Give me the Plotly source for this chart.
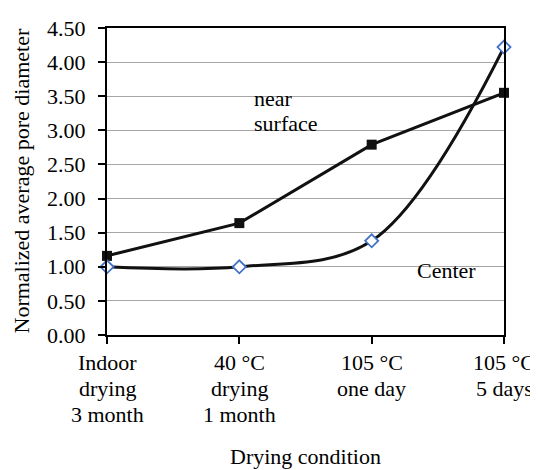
import plotly.graph_objects as go

categories = [["Indoor", "drying", "3 month"], ["40 °C", "drying", "1 month"],
              ["105 °C", "one day"], ["105 °C", "5 days"]]
near_surface = [1.16, 1.64, 2.79, 3.55]
center = [1.00, 1.00, 1.38, 4.22]
y_ticks = [0, 0.5, 1.0, 1.5, 2.0, 2.5, 3.0, 3.5, 4.0, 4.5]

xpos = list(range(len(categories)))
FONT = "Liberation Serif"
FS = 22
TXT = dict(family=FONT, size=FS, color="black")

fig = go.Figure()
fig.add_trace(go.Scatter(
    x=xpos, y=near_surface, mode="lines+markers", name="near surface",
    line=dict(color="#111111", width=3),
    marker=dict(symbol="square", size=10, color="#111111"),
    cliponaxis=False,
))
fig.add_trace(go.Scatter(
    x=xpos, y=center, mode="lines+markers", name="Center",
    line=dict(color="#111111", width=3, shape="spline", smoothing=1),
    marker=dict(symbol="diamond", size=10, color="white",
                line=dict(color="#4472C4", width=1.8)),
    cliponaxis=False,
))

# series labels
fig.add_annotation(x=1.094, y=3.46, text="near", showarrow=False,
                   xanchor="left", yanchor="middle", font=TXT)
fig.add_annotation(x=1.094, y=3.094, text="surface", showarrow=False,
                   xanchor="left", yanchor="middle", font=TXT)
fig.add_annotation(x=2.328, y=0.94, text="Center", showarrow=False,
                   xanchor="left", yanchor="middle", font=TXT)

# category labels (multi-line, tighter line spacing)
for i, lines in enumerate(categories):
    for j, line in enumerate(lines):
        fig.add_annotation(x=xpos[i], y=0, xref="x", yref="y", text=line,
                           showarrow=False, xanchor="center", yanchor="middle",
                           yshift=-27 - 26 * j, font=TXT)

# axis titles
fig.add_annotation(x=0.5, y=0, xref="paper", yref="paper", text="Drying condition",
                   showarrow=False, xanchor="center", yanchor="middle",
                   yshift=-121, font=TXT)
fig.add_annotation(x=-86 / 397, y=0.5, xref="paper", yref="paper",
                   text="Normalized average pore diameter", textangle=-90,
                   showarrow=False, xanchor="center", yanchor="middle", font=TXT)

# page body has an 8px default margin, so the figure is 8px smaller and shifted
fig.update_layout(
    width=530, height=462,
    margin=dict(l=99, r=34, t=8, b=135),
    paper_bgcolor="white", plot_bgcolor="white",
    showlegend=False,
    font=TXT,
    xaxis=dict(
        range=[0, 3], tickvals=xpos, ticktext=[""] * len(xpos),
        showgrid=False, zeroline=False,
        showline=True, linecolor="black", linewidth=2, mirror=True,
        ticks="outside", ticklen=7, tickwidth=2, tickcolor="black",
    ),
    yaxis=dict(
        range=[0, 4.5], tickvals=y_ticks, tickformat=".2f",
        showgrid=True, gridcolor="#a6a6a6", gridwidth=1.3, zeroline=False,
        showline=True, linecolor="black", linewidth=2, mirror=True,
        ticks="outside", ticklen=7, tickwidth=2, tickcolor="black",
        ticklabelstandoff=8, tickfont=TXT, ticklabeloverflow="allow",
    ),
)

fig.write_html("out.html")
